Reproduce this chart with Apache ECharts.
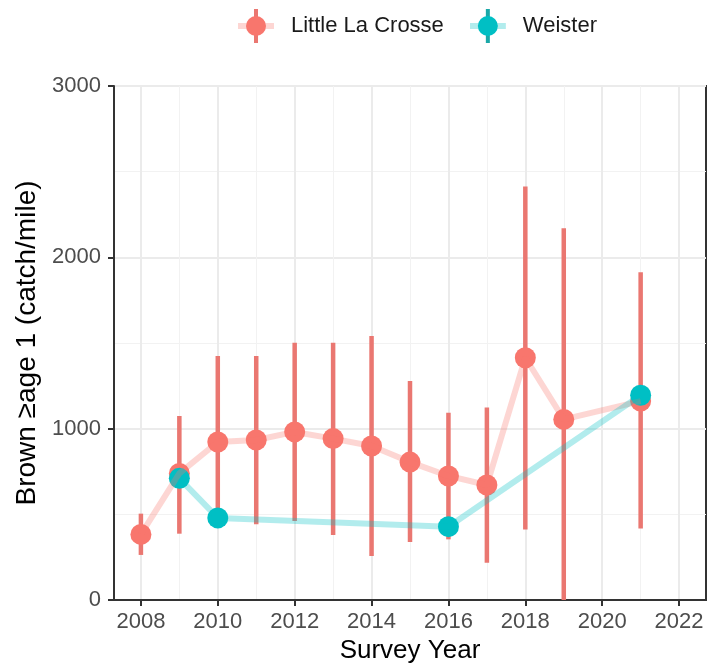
<!DOCTYPE html>
<html>
<head>
<meta charset="utf-8">
<script src="https://cdn.jsdelivr.net/npm/echarts@6/dist/echarts.min.js"></script>
<style>
  html, body { margin: 0; padding: 0; background: #fff; }
  #main { width: 707px; height: 666px; }
</style>
</head>
<body>
<div id="main"></div>
<script>
// Little La Crosse: mean with low/high error bars
var llcYears = [2008, 2009, 2010, 2011, 2012, 2013, 2014, 2015, 2016, 2017, 2018, 2019, 2021];
var llcMean  = [383, 739, 922, 934, 981, 942, 899, 805, 724, 671, 1414, 1054, 1161];
var llcLow   = [263, 387, 450, 442, 461, 379, 257, 339, 354, 218, 412, 0, 418];
var llcHigh  = [504, 1074, 1424, 1424, 1502, 1502, 1541, 1278, 1093, 1123, 2413, 2170, 1913];

// Weister
var weiYears = [2009, 2010, 2016, 2021];
var weiMean  = [710, 479, 428, 1195];

// axis ticks
var xMajor = [2008, 2010, 2012, 2014, 2016, 2018, 2020, 2022];
var xMinor = [2009, 2011, 2013, 2015, 2017, 2019, 2021];

var RED = '#F8766D', RED_BAR = '#EA7771', TEAL = '#00BFC4', TEAL_BAR = '#1AA8A8';
var FONT = 'Liberation Sans, Arial, sans-serif';

function legendIcon(c, bar) {
  var svg = "<svg xmlns='http://www.w3.org/2000/svg' width='48' height='34'>" +
    "<rect x='0' y='14' width='36' height='6' fill='" + c + "' fill-opacity='0.3'/>" +
    "<rect x='16' y='0' width='4' height='34' fill='" + bar + "'/>" +
    "<circle cx='18' cy='17' r='10' fill='" + c + "'/></svg>";
  return 'image://data:image/svg+xml;charset=utf-8,' + encodeURIComponent(svg);
}

function pairs(xs, ys) {
  return xs.map(function (x, i) { return [x, ys[i]]; });
}

var myChart = echarts.init(document.getElementById('main'));

var option = {
  animation: false,
  backgroundColor: '#fff',
  textStyle: { fontFamily: FONT },
  legend: {
    top: 4,
    left: 233,
    itemWidth: 48,
    itemHeight: 34,
    itemGap: 26,
    textStyle: { fontSize: 22, color: '#1a1a1a', fontFamily: FONT },
    data: [
      { name: 'Little La Crosse', icon: legendIcon(RED, RED_BAR) },
      { name: 'Weister', icon: legendIcon(TEAL, TEAL_BAR) }
    ]
  },
  grid: {
    left: 114, right: 1, top: 86, bottom: 66,
    outerBoundsMode: 'none',
    containLabel: false,
    show: true, borderColor: '#333', borderWidth: 2
  },
  xAxis: [{
    type: 'value',
    min: 2007.3, max: 2022.7,
    name: 'Survey Year',
    nameLocation: 'middle',
    nameGap: 36,
    nameTextStyle: { fontSize: 26, color: '#000', fontFamily: FONT },
    axisLine: { show: true, lineStyle: { color: '#333', width: 2 } },
    axisTick: { show: true, length: 6, lineStyle: { color: '#333', width: 2 }, customValues: xMajor },
    axisLabel: { fontSize: 22, color: '#4D4D4D', margin: 11, customValues: xMajor, formatter: function (v) { return String(v); } },
    splitLine: { show: true, lineStyle: { color: '#EBEBEB', width: 2 } }
  }, {
    type: 'value',
    min: 2007.3, max: 2022.7,
    position: 'bottom',
    axisLine: { show: false },
    axisTick: { show: false, customValues: xMinor },
    axisLabel: { show: false, customValues: xMinor },
    splitLine: { show: true, lineStyle: { color: '#F2F2F2', width: 1 } }
  }],
  yAxis: {
    type: 'value',
    min: 0, max: 3000, interval: 1000,
    name: 'Brown \u2265age 1 (catch/mile)',
    nameLocation: 'middle',
    nameGap: 72,
    nameTextStyle: { fontSize: 28, color: '#000', fontFamily: FONT },
    axisLine: { show: true, lineStyle: { color: '#333', width: 2 } },
    axisTick: { show: true, length: 6, lineStyle: { color: '#333', width: 2 } },
    axisLabel: { fontSize: 22, color: '#4D4D4D', margin: 13, formatter: function (v) { return String(v); } },
    splitLine: { show: true, lineStyle: { color: '#EBEBEB', width: 2 } },
    minorTick: { show: false, splitNumber: 2 },
    minorSplitLine: { show: true, lineStyle: { color: '#F2F2F2', width: 1 } }
  },
  series: [
    {
      name: 'Little La Crosse', type: 'line', symbol: 'none',
      data: pairs(llcYears, llcMean),
      lineStyle: { color: RED, width: 6, opacity: 0.3 },
      itemStyle: { color: RED }
    },
    {
      name: 'Weister', type: 'line', symbol: 'none',
      data: pairs(weiYears, weiMean),
      lineStyle: { color: TEAL, width: 6, opacity: 0.3 },
      itemStyle: { color: TEAL }
    },
    {
      name: 'Little La Crosse', type: 'custom',
      data: llcYears.map(function (y, i) { return [y, llcLow[i], llcHigh[i]]; }),
      encode: { x: 0, y: [1, 2] },
      clip: true,
      renderItem: function (params, api) {
        var p1 = api.coord([api.value(0), api.value(1)]);
        var p2 = api.coord([api.value(0), api.value(2)]);
        return {
          type: 'line',
          shape: { x1: p1[0], y1: p1[1], x2: p2[0], y2: p2[1] },
          style: { stroke: RED_BAR, lineWidth: 4.5 }
        };
      }
    },
    {
      name: 'Little La Crosse', type: 'scatter', symbolSize: 21,
      data: pairs(llcYears, llcMean),
      itemStyle: { color: RED, opacity: 1 }
    },
    {
      name: 'Weister', type: 'scatter', symbolSize: 21,
      data: pairs(weiYears, weiMean),
      itemStyle: { color: TEAL, opacity: 1 }
    }
  ]
};

myChart.setOption(option);
</script>
</body>
</html>
